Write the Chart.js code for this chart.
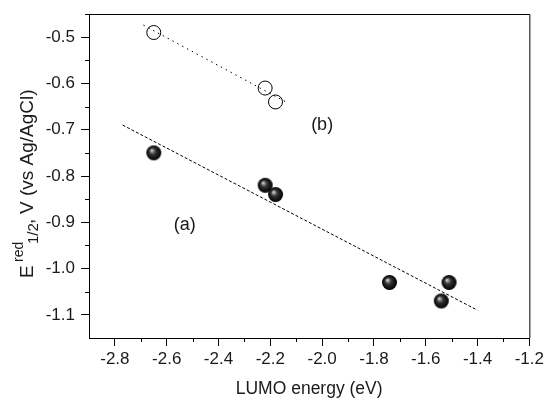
<!DOCTYPE html>
<html>
<head>
<meta charset="utf-8">
<script src="https://cdn.jsdelivr.net/npm/chart.js@4.4.1/dist/chart.umd.min.js"></script>
<style>
    html, body { margin: 0; padding: 0; background: #fff; }
    #wrap { width: 547px; height: 401px; position: relative; }
</style>
</head>
<body>
<div id="wrap"><canvas id="grafico"></canvas></div>
<script>
// dati
const lumoA = [-2.65, -2.22, -2.18, -1.74, -1.54, -1.51];
const eredA = [-0.75, -0.82, -0.84, -1.03, -1.07, -1.03];
const lumoB = [-2.65, -2.22, -2.18];
const eredB = [-0.49, -0.61, -0.64];

// rette di regressione (estremi)
const fitAx = [-2.77, -1.40];
const fitAy = [-0.69, -1.09];
const fitBx = [-2.69, -2.14];
const fitBy = [-0.474, -0.64];

const xTicks = [-2.8, -2.6, -2.4, -2.2, -2.0, -1.8, -1.6, -1.4, -1.2];
const yTicks = [-1.1, -1.0, -0.9, -0.8, -0.7, -0.6, -0.5];
const xMinor = [-2.7, -2.5, -2.3, -2.1, -1.9, -1.7, -1.5, -1.3];
const yMinor = [-1.05, -0.95, -0.85, -0.75, -0.65, -0.55, -0.45];

const etichette = [
    { text: '(a)', x: -2.53, y: -0.906 },
    { text: '(b)', x: -2.0, y: -0.69 }
];

const FONT = '"Liberation Sans", Arial, sans-serif';

function zip(xs, ys) {
    return xs.map((x, i) => ({ x: x, y: ys[i] }));
}

// sfera nera lucida
function creaSfera(r) {
    const c = document.createElement('canvas');
    const s = r * 2 + 2;
    c.width = s; c.height = s;
    const g = c.getContext('2d');
    const cx = s / 2, cy = s / 2;
    const grad = g.createRadialGradient(cx - r * 0.3, cy - r * 0.35, 0, cx, cy, r);
    grad.addColorStop(0, '#ffffff');
    grad.addColorStop(0.16, '#9a9a9a');
    grad.addColorStop(0.45, '#303030');
    grad.addColorStop(1, '#000000');
    g.fillStyle = grad;
    g.beginPath();
    g.arc(cx, cy, r, 0, Math.PI * 2);
    g.fill();
    return c;
}

const decorazioni = {
    id: 'decorazioni',
    afterDraw(chart) {
        const ctx = chart.ctx;
        const area = chart.chartArea;
        const xs = chart.scales.x, ys = chart.scales.y;
        ctx.save();
        ctx.strokeStyle = '#000';
        ctx.lineWidth = 1;
        // cornice superiore e destra
        ctx.beginPath();
        ctx.moveTo(area.left, area.top + 0.5);
        ctx.lineTo(area.right + 0.5, area.top + 0.5);
        ctx.lineTo(area.right + 0.5, area.bottom);
        ctx.stroke();
        // tacche minori
        ctx.beginPath();
        xMinor.forEach(v => {
            const px = Math.round(xs.getPixelForValue(v)) + 0.5;
            ctx.moveTo(px, area.bottom);
            ctx.lineTo(px, area.bottom + 4);
        });
        yMinor.forEach(v => {
            const py = Math.round(ys.getPixelForValue(v)) + 0.5;
            ctx.moveTo(area.left, py);
            ctx.lineTo(area.left - 4, py);
        });
        ctx.stroke();

        // etichette (a) e (b)
        ctx.fillStyle = '#1a1a1a';
        ctx.font = '18px ' + FONT;
        ctx.textAlign = 'center';
        ctx.textBaseline = 'middle';
        etichette.forEach(e => {
            ctx.fillText(e.text, xs.getPixelForValue(e.x), ys.getPixelForValue(e.y));
        });

        // titolo asse y con apice e pedice (posizioni lungo il testo)
        const parti = [
            { t: 'E', size: 19, x: 0, dy: 0 },
            { t: 'red', size: 14, x: 16, dy: -10 },
            { t: '1/2', size: 15, x: 34, dy: 5 },
            { t: ',', size: 19, x: 54, dy: 0 },
            { t: 'V (vs Ag/AgCl)', size: 19, x: 64, dy: 0 }
        ];
        ctx.translate(33, 278);
        ctx.rotate(-Math.PI / 2);
        ctx.textAlign = 'left';
        ctx.textBaseline = 'alphabetic';
        parti.forEach(p => {
            ctx.font = p.size + 'px ' + FONT;
            ctx.fillText(p.t, p.x, p.dy);
        });
        ctx.restore();
    }
};

function generaGrafico() {
    const canvas = document.getElementById('grafico');
    const sfera = creaSfera(7.5);

    new Chart(canvas.getContext('2d'), {
        type: 'scatter',
        data: {
            datasets: [
                {
                    label: 'fit a',
                    data: zip(fitAx, fitAy),
                    showLine: true,
                    borderColor: '#000',
                    borderWidth: 1,
                    borderDash: [3, 2],
                    pointRadius: 0,
                    order: 3
                },
                {
                    label: 'fit b',
                    data: zip(fitBx, fitBy),
                    showLine: true,
                    borderColor: '#000',
                    borderWidth: 1,
                    borderDash: [1.5, 4],
                    pointRadius: 0,
                    order: 3
                },
                {
                    label: '(a)',
                    data: zip(lumoA, eredA),
                    pointStyle: sfera,
                    pointRadius: 7.5,
                    order: 1
                },
                {
                    label: '(b)',
                    data: zip(lumoB, eredB),
                    pointStyle: 'circle',
                    pointRadius: 7,
                    pointBackgroundColor: 'rgba(255,255,255,0)',
                    pointBorderColor: '#000',
                    pointBorderWidth: 1,
                    order: 2
                }
            ]
        },
        options: {
            responsive: true,
            maintainAspectRatio: false,
            animation: false,
            layout: { padding: { top: 14, right: 17, left: 0, bottom: 0 } },
            plugins: {
                legend: { display: false },
                tooltip: { enabled: false }
            },
            scales: {
                x: {
                    type: 'linear',
                    min: -2.9,
                    max: -1.2,
                    afterBuildTicks: s => { s.ticks = xTicks.map(v => ({ value: v })); },
                    afterFit: s => { s.height = 63; },
                    grid: { drawOnChartArea: false, tickLength: 8, color: '#000' },
                    border: { display: true, color: '#000', width: 1 },
                    ticks: {
                        color: '#1a1a1a',
                        padding: 3,
                        maxRotation: 0,
                        font: { family: FONT, size: 17 },
                        callback: v => v.toFixed(1)
                    },
                    title: {
                        display: true,
                        text: 'LUMO energy (eV)',
                        color: '#1a1a1a',
                        font: { family: FONT, size: 17.5 },
                        padding: { top: 0, bottom: 1 }
                    }
                },
                y: {
                    type: 'linear',
                    min: -1.15,
                    max: -0.45,
                    afterBuildTicks: s => { s.ticks = yTicks.map(v => ({ value: v })); },
                    afterFit: s => {
                        s.width = 89;
                        s.paddingTop = 0;
                        s.paddingBottom = 0;
                    },
                    grid: { drawOnChartArea: false, tickLength: 8, color: '#000' },
                    border: { display: true, color: '#000', width: 1 },
                    ticks: {
                        color: '#1a1a1a',
                        padding: 6,
                        font: { family: FONT, size: 17 },
                        callback: v => v.toFixed(1)
                    }
                }
            }
        },
        plugins: [decorazioni]
    });
}

document.addEventListener('DOMContentLoaded', generaGrafico);
</script>
</body>
</html>
